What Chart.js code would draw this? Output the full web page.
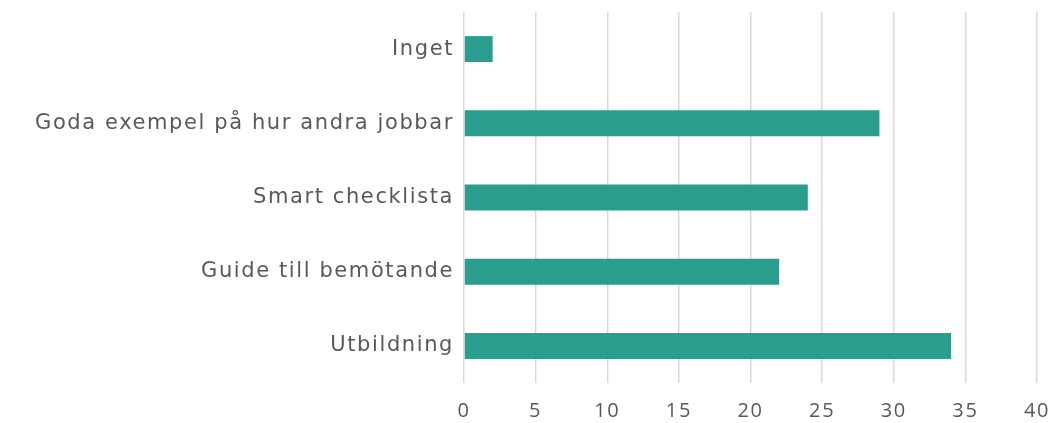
<!DOCTYPE html>
<html><head><meta charset="utf-8">
<script src="https://cdn.jsdelivr.net/npm/chart.js@4/dist/chart.umd.min.js"></script>
<style>html,body{margin:0;padding:0;background:#fff;}#wrap{width:1054px;height:423px;}</style>
</head><body><div id="wrap"><canvas id="c" width="1054" height="423"></canvas></div>
<script>
const categories = ["Inget", "Goda exempel på hur andra jobbar", "Smart checklista", "Guide till bemötande", "Utbildning"];
const values = [2, 29, 24, 22, 34];
const xTicks = [0, 5, 10, 15, 20, 25, 30, 35, 40];

const spacing = {
  id: 'spacing',
  beforeDraw(chart) { chart.ctx.letterSpacing = '1.6px'; }
};

new Chart(document.getElementById('c'), {
  type: 'bar',
  data: { labels: categories, datasets: [{ data: values, backgroundColor: '#2a9d8e', borderWidth: 0, barPercentage: 0.7, categoryPercentage: 0.5 }] },
  options: {
    indexAxis: 'y', responsive: false, animation: false,
    layout: { padding: { top: 12, right: 17, left: 0, bottom: 0 } },
    plugins: { legend: { display: false }, tooltip: { enabled: false } },
    scales: {
      x: {
        min: 0, max: 40,
        afterBuildTicks: s => { s.ticks = xTicks.map(v => ({ value: v })); },
        afterFit: s => { s.height = 40; s.paddingLeft = 0; s.paddingRight = 0; },
        grid: { color: '#d9d9d9', lineWidth: 1.5, drawTicks: false },
        border: { display: false },
        ticks: { color: '#595959', font: { family: 'Open Sans', size: 20 }, padding: 16 }
      },
      y: {
        afterFit: s => { s.width = 464; s.paddingTop = 0; s.paddingBottom = 0; },
        grid: { display: false, drawTicks: false },
        border: { display: false },
        ticks: { color: '#595959', font: { family: 'DejaVu Sans', size: 21 }, padding: 10 }
      }
    }
  },
  plugins: [spacing]
});
</script></body></html>
